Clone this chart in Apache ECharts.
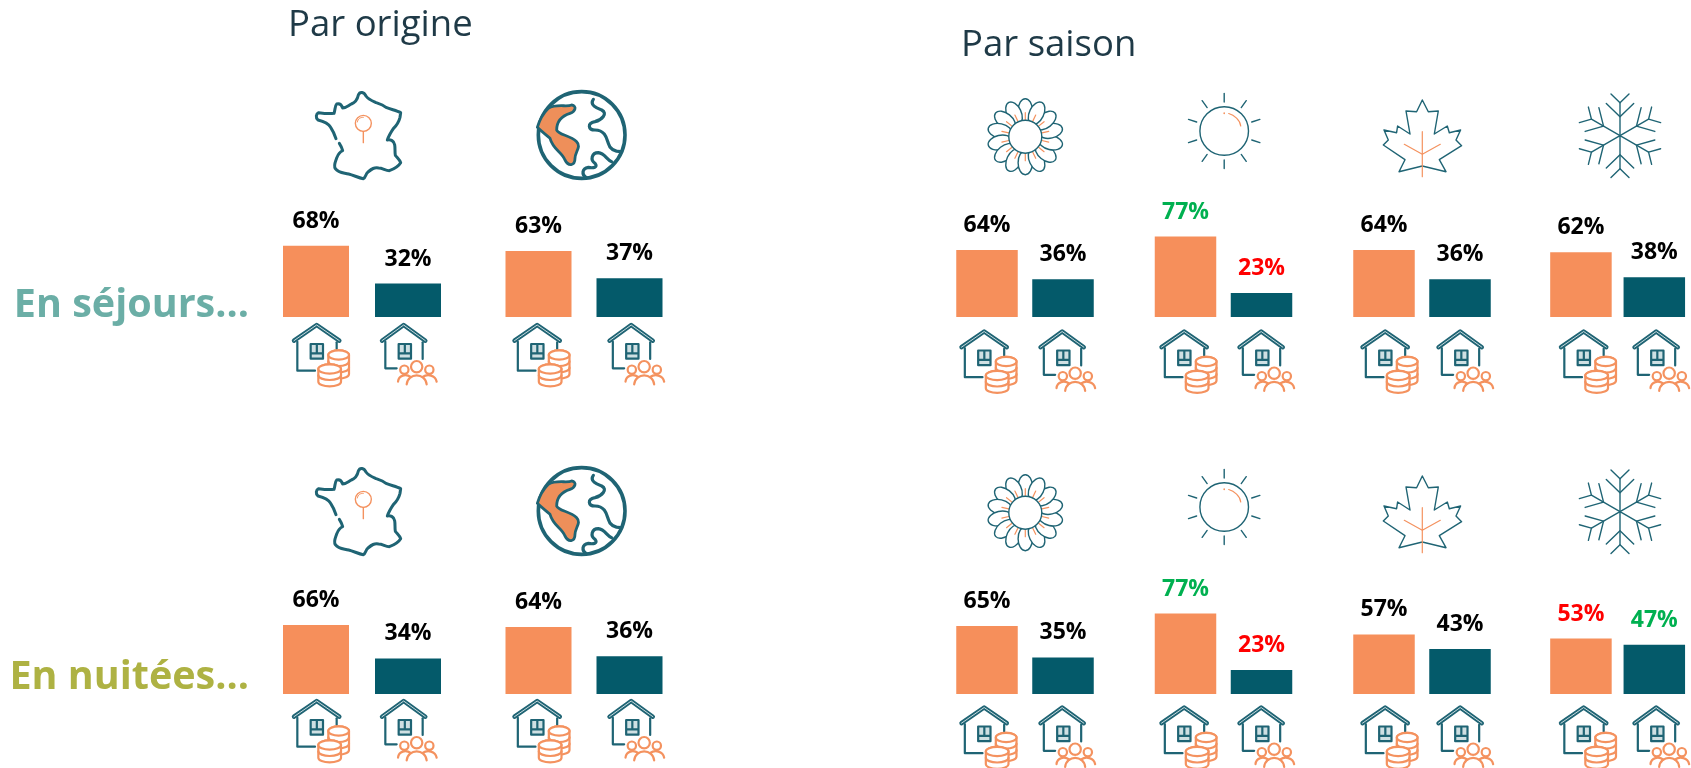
<!DOCTYPE html>
<html>
<head>
<meta charset="utf-8">
<title>Par origine / Par saison</title>
<style>
    html,body{margin:0;padding:0;background:#fff;}
    #chart{width:1691px;height:768px;}
</style>
<script src="https://cdn.jsdelivr.net/npm/echarts@6/dist/echarts.min.js"></script>
</head>
<body>
<div id="chart"></div>
<script>
"use strict";
/*数据*/
const categories = ["Marchand","Non marchand"];
const groups = ["France","Étranger","Printemps","Été","Automne","Hiver"];
const sejoursMarchand = [68,63,64,77,64,62];
const sejoursNonMarchand = [32,37,36,23,36,38];
const nuiteesMarchand = [66,64,65,77,57,53];
const nuiteesNonMarchand = [34,36,35,23,43,47];
/*highlighted labels: "row-group-category"*/
const greenLabels = ["0-3-0","1-3-0","1-5-1"];
const redLabels = ["0-3-1","1-3-1","1-5-0"];

const ORANGE = "#F68F5B", DARK = "#045A6A", TEAL = "#1F6474", ICON_ORANGE = "#F4925F";
const FONT = "'Open Sans'";

/*layout of the six groups*/
const centers = [316,538.5,987,1185.5,1384,1582.5];
const bands = [92,91,76,76,76,76.5];
const barWidths = [66,66,61.5,61.5,61.5,61.5];
const baselines = [317,694];
const PX_PER_PERCENT = 1.046;
const ROW_SHIFT = 376;

let grids = [], xAxes = [], yAxes = [], series = [];
[[sejoursMarchand,sejoursNonMarchand],[nuiteesMarchand,nuiteesNonMarchand]].forEach((row,r)=>{
    groups.forEach((name,g)=>{
        let idx = grids.length;
        grids.push({
            left:centers[g]-bands[g]/2,
            width:bands[g]*2,
            top:baselines[r]-100*PX_PER_PERCENT,
            height:100*PX_PER_PERCENT
        });
        xAxes.push({type:"category",gridIndex:idx,show:false,data:categories});
        yAxes.push({type:"value",gridIndex:idx,show:false,min:0,max:100});
        series.push({
            type:"bar",
            name:name,
            xAxisIndex:idx,
            yAxisIndex:idx,
            barWidth:barWidths[g],
            silent:true,
            data:[row[0][g],row[1][g]].map((v,c)=>{
                let key = r+"-"+g+"-"+c;
                let labelColor = greenLabels.includes(key) ? "#00B050" : redLabels.includes(key) ? "#FF0000" : "#000";
                return {
                    value:v,
                    itemStyle:{color:c === 0 ? ORANGE : DARK},
                    label:{color:labelColor}
                };
            }),
            label:{
                show:true,
                position:"top",
                distance:13,
                formatter:"{c}%",
                fontFamily:FONT,
                fontWeight:"bold",
                fontSize:23
            }
        });
    });
});

/*---- icons, drawn in their own coordinates ----*/
function line(d,color,width,fill){
    return {
        type:"path",
        shape:{pathData:d},
        style:{stroke:color,lineWidth:width,fill:fill || "none",strokeNoScale:true,lineCap:"round",lineJoin:"round"}
    };
}
function ellipsePath(cx,cy,rx,ry){
    return "M"+(cx-rx)+" "+cy+" A"+rx+" "+ry+" 0 1 1 "+(cx+rx)+" "+cy+" A"+rx+" "+ry+" 0 1 1 "+(cx-rx)+" "+cy+" Z";
}
/*a pile of coins*/
function coinStack(cx,top,rx,ry,step,n){
    let out = [];
    let h = step*n;
    out.push(line("M"+(cx-rx)+" "+top+" L"+(cx-rx)+" "+(top+h)+" A"+rx+" "+ry+" 0 0 0 "+(cx+rx)+" "+(top+h)+" L"+(cx+rx)+" "+top+" A"+rx+" "+ry+" 0 0 0 "+(cx-rx)+" "+top+" Z",ICON_ORANGE,2.2,"#fff"));
    out.push(line(ellipsePath(cx,top,rx,ry),ICON_ORANGE,2.2,"#fff"));
    for(let i = 1;i < n;i++){
        out.push(line("M"+(cx-rx)+" "+(top+step*i)+" A"+rx+" "+ry+" 0 0 0 "+(cx+rx)+" "+(top+step*i),ICON_ORANGE,2.2));
    }
    return out;
}
function houseBase(roofW,rightWall,bottomEnd,bottomY,winX){
    return [
        line("M0 47 L"+roofW/2+" 0 L"+roofW+" 47",TEAL,4.4),
        line("M0 47 L"+roofW/2+" 0 L"+roofW+" 47","#DCE9EB",0.9),
        line("M10 50 L10 "+bottomY+" L"+bottomEnd+" "+bottomY,TEAL,2.2),
        line("M"+(roofW-8)+" 52 L"+(roofW-8)+" "+rightWall,TEAL,2.2),
        line("M"+winX+" 57 L"+(winX+37)+" 57 L"+(winX+37)+" 101 L"+winX+" 101 Z M"+winX+" 85 L"+(winX+37)+" 85 M"+(winX+18.5)+" 57 L"+(winX+18.5)+" 85",TEAL,2.2,"#CFE0E3")
    ];
}
function coinHouse(x,y){
    return {
        type:"group",x:x,y:y,scaleX:1/3,scaleY:1/3,
        children:houseBase(136,72,63,137,50)
            .concat(coinStack(134,90,31,14,19,3))
            .concat(coinStack(107,132,34,14,19,2))
    };
}
function peopleHouse(x,y){
    return {
        type:"group",x:x,y:y,scaleX:1/3,scaleY:1/3,
        children:houseBase(130,102,44,130,50).concat([
            line(ellipsePath(104,125,17,17),ICON_ORANGE,2.2,"#fff"),
            line(ellipsePath(67,134,12.5,12.5),ICON_ORANGE,2.2,"#fff"),
            line(ellipsePath(142,134,12.5,12.5),ICON_ORANGE,2.2,"#fff"),
            line("M48 170 C50 150 72 146 86 156",ICON_ORANGE,2.2),
            line("M164 170 C160 150 136 146 122 156",ICON_ORANGE,2.2),
            line("M74 178 C78 142 130 142 134 178",ICON_ORANGE,2.2)
        ])
    };
}
function franceIcon(x,y){
    let outline = "M175 45 C180 33 192 36 198 48 C205 58 215 62 228 68 C240 72 245 72 258 82 C272 88 290 92 302 98 L300 112 "+
        "C296 128 290 136 280 146 C272 158 266 168 262 180 C272 178 282 182 284 194 C286 206 284 214 286 226 C292 234 300 240 302 248 "+
        "C296 258 284 266 268 272 C256 272 248 264 236 264 C222 262 216 266 204 276 C196 282 198 292 190 296 "+
        "C176 294 162 286 146 282 C130 278 116 280 106 266 C100 256 106 246 110 234 C114 224 118 216 128 212 C126 204 122 196 118 190 "+
        "M108 176 C104 164 100 154 92 142 C84 128 70 124 54 120 C46 112 48 102 56 98 C70 100 86 102 102 100 C106 90 104 78 110 72 "+
        "C118 70 124 72 128 84 C138 84 146 76 154 72 C164 68 172 60 175 45";
    return {type:"group",x:x,y:y,scaleX:1/3,scaleY:1/3,children:[
        line(outline,TEAL,3),
        line(ellipsePath(190,130,24,24),ICON_ORANGE,1.4),
        line("M172 126 C174 116 180 112 190 112",ICON_ORANGE,1),
        line("M190 154 L190 188",ICON_ORANGE,1.4)
    ]};
}
function globeIcon(x,y){
    return {type:"group",x:x,y:y,scaleX:1/3,scaleY:1/3,children:[
        line(ellipsePath(845,165,130,130),TEAL,3.6,"#fff"),
        line("M745 85 C770 70 800 82 815 75 C832 78 826 95 810 100 C785 108 770 125 770 150 C775 165 810 165 830 185 C845 200 825 215 825 235 C825 258 805 260 795 240 C785 215 760 210 750 175 C740 165 725 155 712 142 C720 115 735 95 745 85 Z",TEAL,2.8,"#EE8F5A"),
        line("M880 58 C868 75 890 85 905 90 C925 100 905 120 885 125 C860 130 865 150 885 150 C915 150 920 175 925 190 C930 210 945 215 965 215",TEAL,3.2),
        line("M935 245 C920 240 915 220 895 218 C875 218 870 240 885 250 C895 262 880 265 865 262 C845 265 845 285 858 292",TEAL,3.2)
    ]};
}
function flowerIcon(cx,cy){
    let kids = [];
    const PETALS = 14;
    for(let i = 0;i < PETALS;i++){
        kids.push({type:"group",rotation:i*Math.PI*2/PETALS,children:[line(ellipsePath(0,-26,7.2,12),TEAL,1.4,"#fff")]});
    }
    for(let i = 0;i < PETALS;i++){
        kids.push({type:"group",rotation:i*Math.PI*2/PETALS,children:[line("M0 -17 L0 -24",ICON_ORANGE,1.2)]});
    }
    kids.push(line(ellipsePath(0,0,16.5,16.5),TEAL,1.4,"#fff"));
    return {type:"group",x:cx,y:cy,children:kids};
}
function sunIcon(cx,cy){
    let kids = [line(ellipsePath(0,0,24.3,24.3),TEAL,1.4,"#fff")];
    for(let i = 0;i < 10;i++){
        kids.push({type:"group",rotation:i*Math.PI/5,children:[line("M0 -29 L0 -37.5",TEAL,1.4)]});
    }
    kids.push(line("M4.5 -17.5 C10 -16 16 -11 16.5 -5",ICON_ORANGE,1.2));
    kids.push(line("M0 -18 L0 -17.5",ICON_ORANGE,1.6));
    return {type:"group",x:cx,y:cy,children:kids};
}
function mapleIcon(x,y){
    /*points are centred on the stem*/
    let outline = "M0 0 L6 11.7 L16 11 L12 34 L25 26 L27 32.7 L38.3 30 L33.7 40 L39.3 45.7 L17 59.7 L23.7 71.7 L0 66 L-23.3 71.7 L-17.3 59.7 L-39 45 L-34 40 L-38.3 30 L-25.7 32.7 L-24.7 26 L-12.3 34 L-16.3 11 L-5.7 11.7 Z";
    return {type:"group",x:x,y:y,children:[
        line(outline,TEAL,1.4),
        line("M0 31.7 L0 76.7",ICON_ORANGE,1.2),
        line("M-18 44.3 L0 54.3 L18 44.3",ICON_ORANGE,1.2)
    ]};
}
function snowIcon(cx,cy){
    let kids = [];
    for(let i = 0;i < 6;i++){
        kids.push({type:"group",rotation:i*Math.PI/3,children:[
            line("M0 0 L0 -33",TEAL,1.4),
            line("M-13.7 -32.3 L0 -19 L13.7 -32.3",TEAL,1.4),
            line("M-9 -41.7 L0 -33 L9 -41.7",TEAL,1.4)
        ]});
    }
    return {type:"group",x:cx,y:cy,children:kids};
}

const coinHouseX = [294,514.5,961.5,1161.5,1362.5,1561];
const peopleHouseX = [382,609.5,1040.5,1239.5,1438.5,1634.5];
const houseY = [325,325,331.5,331.5,331.5,331.5];

let icons = [];
baselines.forEach((b,r)=>{
    let dy = r*ROW_SHIFT;
    icons.push(franceIcon(300,80+dy));
    icons.push(globeIcon(300,80+dy));
    icons.push(flowerIcon(1025.3,136.7+dy));
    icons.push(sunIcon(1224.2,131+dy));
    icons.push(mapleIcon(1422.3,100+dy));
    icons.push(snowIcon(1620,135.7+dy));
    groups.forEach((name,g)=>{
        icons.push(coinHouse(coinHouseX[g],houseY[g]+dy));
        icons.push(peopleHouse(peopleHouseX[g],houseY[g]+dy));
    });
});
/*graphic component has no "path" element, a custom series does*/
series.push({
    type:"custom",
    coordinateSystem:"none",
    silent:true,
    data:[0],
    renderItem:()=>({type:"group",children:icons})
});

/*titles*/
function title(text,x,y,size,color,weight,align){
    return {
        type:"text",x:x,y:y,
        style:{text:text,fontFamily:FONT,fontSize:size,fontWeight:weight,fill:color,textAlign:align,textVerticalAlign:"middle"}
    };
}
let titles = [
    title("Par origine",288,26,36.5,"#1F3A47","normal","left"),
    title("Par saison",961,46,36.5,"#1F3A47","normal","left"),
    title("En séjours…",249,306,39.5,"#6BAEA6","bold","right"),
    title("En nuitées…",249,678,39.5,"#AEB243","bold","right")
];

let chart = echarts.init(document.getElementById("chart"));
chart.setOption({
    animation:false,
    backgroundColor:"#fff",
    grid:grids,
    xAxis:xAxes,
    yAxis:yAxes,
    series:series,
    graphic:{elements:titles}
});
</script>
</body>
</html>
